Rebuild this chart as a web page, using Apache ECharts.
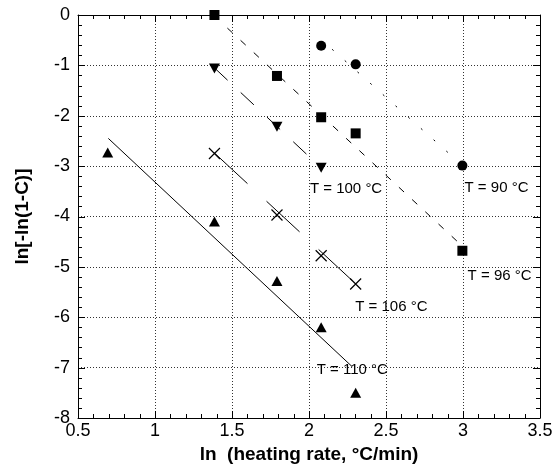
<!DOCTYPE html>
<html>
<head>
<meta charset="utf-8">
<script src="https://cdn.jsdelivr.net/npm/echarts@6/dist/echarts.min.js"></script>
<style>
html,body{margin:0;padding:0;background:#fff;}
#c{width:555px;height:465px;}
</style>
</head>
<body>
<div id="c"></div>
<script>
// ---- data ----
const xTicks = [0.5, 1, 1.5, 2, 2.5, 3, 3.5];
const yTicks = [0, -1, -2, -3, -4, -5, -6, -7, -8];
const X_MIN = 0.5, X_MAX = 3.5, Y_MIN = -8, Y_MAX = 0;

const xT90 = [2.079, 2.303, 2.996];
const yT90 = [-0.61, -0.98, -2.99];
const xT96 = [1.386, 1.792, 2.079, 2.303, 2.996];
const yT96 = [0.0, -1.21, -2.03, -2.35, -4.68];
const xT100 = [1.386, 1.792, 2.079];
const yT100 = [-1.06, -2.22, -3.03];
const xT106 = [1.386, 1.792, 2.079, 2.303];
const yT106 = [-2.75, -3.97, -4.78, -5.34];
const xT110 = [0.693, 1.386, 1.792, 2.079, 2.303];
const yT110 = [-2.73, -4.1, -5.28, -6.2, -7.5];

// fitted lines (end points)
const fitX90 = [2.15, 2.95], fitY90 = [-0.68, -2.86];
const fitX96 = [1.47, 3.0], fitY96 = [-0.26, -4.6];
const fitX100 = [1.386, 1.99], fitY100 = [-1.05, -2.78];
const fitX106 = [1.386, 2.28], fitY106 = [-2.74, -5.27];
const fitX110 = [0.697, 2.28], fitY110 = [-2.45, -6.98];

// annotation labels (anchored at left edge of text)
const labelText = ['T = 90 °C', 'T = 100 °C', 'T = 96 °C', 'T = 106 °C', 'T = 110 °C'];
const labelX = [3.01, 2.006, 3.03, 2.30, 2.05];
const labelY = [-3.43, -3.45, -5.18, -5.79, -7.04];

const zip = (xs, ys) => xs.map((x, i) => [x, ys[i]]);

// frame tick marks (major + 5 minor divisions), drawn on all four sides
const tickData = [];
for (let i = 0; i <= 30; i++) {
  const v = X_MIN + i * 0.1;
  tickData.push([v, Y_MIN, 0, i % 5 === 0 ? 1 : 0]);   // kind 0 = x tick
}
for (let i = 0; i <= 40; i++) {
  const v = Y_MIN + i * 0.2;
  tickData.push([X_MIN, v, 1, i % 5 === 0 ? 1 : 0]);   // kind 1 = y tick
}

const FONT = '"Liberation Sans", Arial, Helvetica, sans-serif';
const chart = echarts.init(document.getElementById('c'));

function frame() {
  return {
    axisLine: { show: true, onZero: false, lineStyle: { color: '#000', width: 1 } },
    axisTick: { show: false },
    minorTick: { show: false }
  };
}

function scatter(name, xs, ys, symbol, size, extra) {
  return Object.assign({
    type: 'scatter', name, data: zip(xs, ys), symbol, symbolSize: size,
    itemStyle: { color: '#000', opacity: 1 }, z: 5
  }, extra || {});
}
function fit(xs, ys, type) {
  return {
    type: 'line', data: zip(xs, ys), symbol: 'none',
    lineStyle: { color: '#000', width: 1, type: type }, z: 4
  };
}

function renderTick(params, api) {
  const cs = params.coordSys;
  const kind = api.value(2), major = api.value(3) === 1;
  const len = major ? 7 : 4;
  const st = { stroke: '#000', lineWidth: 1 };
  if (kind === 0) {
    const px = Math.round(api.coord([api.value(0), Y_MIN])[0]) + 0.5;
    const yb = cs.y + cs.height, yt = cs.y;
    return { type: 'group', children: [
      { type: 'line', shape: { x1: px, y1: yb, x2: px, y2: yb - len }, style: st },
      { type: 'line', shape: { x1: px, y1: yt, x2: px, y2: yt + len }, style: st }
    ]};
  } else {
    const py = Math.round(api.coord([X_MIN, api.value(1)])[1]) + 0.5;
    const xl = cs.x, xr = cs.x + cs.width;
    return { type: 'group', children: [
      { type: 'line', shape: { x1: xl, y1: py, x2: xl + len, y2: py }, style: st },
      { type: 'line', shape: { x1: xr, y1: py, x2: xr - len, y2: py }, style: st }
    ]};
  }
}

chart.setOption({
  animation: false,
  grid: { left: 78, right: 15, top: 15, bottom: 47, outerBoundsMode: 'none' },
  xAxis: [
    Object.assign({
      type: 'value', position: 'bottom', min: X_MIN, max: X_MAX, interval: 0.5,
      name: 'ln  (heating rate, °C/min)', nameLocation: 'middle', nameGap: 25,
      nameTextStyle: { fontFamily: FONT, fontWeight: 'bold', fontSize: 19, color: '#000' },
      axisLabel: { fontFamily: FONT, fontSize: 18, color: '#000', margin: 4 },
      splitLine: { show: true, lineStyle: { color: '#333', type: [1, 2], width: 1 } }
    }, frame()),
    Object.assign({
      type: 'value', position: 'top', min: X_MIN, max: X_MAX, interval: 0.5,
      axisLabel: { show: false }, splitLine: { show: false }
    }, frame())
  ],
  yAxis: [
    Object.assign({
      type: 'value', position: 'left', min: Y_MIN, max: Y_MAX, interval: 1,
      name: 'ln[-ln(1-C)]', nameLocation: 'middle', nameGap: 46, nameRotate: 90,
      nameTextStyle: { fontFamily: FONT, fontWeight: 'bold', fontSize: 19, color: '#000' },
      axisLabel: { fontFamily: FONT, fontSize: 18, color: '#000', margin: 8 },
      splitLine: { show: true, lineStyle: { color: '#333', type: [1, 2], width: 1 } }
    }, frame()),
    Object.assign({
      type: 'value', position: 'right', min: Y_MIN, max: Y_MAX, interval: 1,
      axisLabel: { show: false }, splitLine: { show: false }
    }, frame())
  ],
  series: [
    {
      type: 'custom', coordinateSystem: 'cartesian2d', data: tickData,
      renderItem: renderTick, silent: true, clip: false, z: 3
    },
    fit(fitX90, fitY90, [2, 15]),
    fit(fitX96, fitY96, [7, 11]),
    fit(fitX100, fitY100, [18, 18]),
    fit(fitX106, fitY106, [45, 26]),
    fit(fitX110, fitY110, 'solid'),
    scatter('T90', xT90, yT90, 'circle', 10),
    scatter('T96', xT96, yT96, 'rect', 10),
    scatter('T100', xT100, yT100, 'path://M0,0L10,0L5,9Z', [11, 10]),
    scatter('T106', xT106, yT106, 'path://M0,0L10,10M10,0L0,10', 11,
      { itemStyle: { color: 'transparent', borderColor: '#000', borderWidth: 1.2, opacity: 1 } }),
    scatter('T110', xT110, yT110, 'path://M5,0L10,9L0,9Z', [11, 10]),
    {
      type: 'scatter', data: zip(labelX, labelY), symbolSize: 0, z: 6,
      itemStyle: { opacity: 1 },
      label: {
        show: true, position: 'right', distance: 0,
        formatter: p => labelText[p.dataIndex],
        fontFamily: FONT, fontSize: 15, color: '#000'
      }
    }
  ]
});
</script>
</body>
</html>
